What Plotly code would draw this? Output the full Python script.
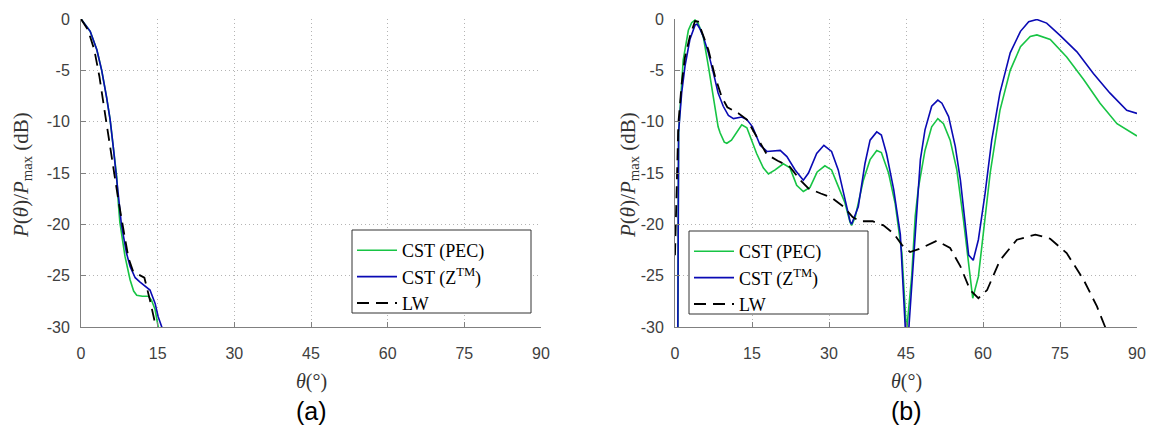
import plotly.graph_objects as go

# ---------------- data: panel (a) ----------------
theta_a_pec = [0.0, 1.8, 3.1, 4.05, 5.0, 5.7, 6.3, 7.0, 7.25, 7.6, 8.6, 9.6, 10.3, 10.9, 12.0, 13.2, 13.8, 14.5, 15.1, 15.4]
pec_a = [0.0, -1.2, -3.0, -5.0, -7.6, -9.8, -12.4, -15.4, -17.6, -19.8, -23.1, -25.4, -26.5, -26.9, -27.0, -27.0, -27.4, -28.3, -30.0, -31.0]

theta_a_ztm = [0.0, 1.8, 3.1, 4.05, 5.0, 5.7, 6.3, 7.0, 7.4, 7.9, 8.9, 9.6, 10.6, 11.5, 12.5, 13.5, 14.5, 15.1, 15.8, 16.0]
ztm_a = [0.0, -1.2, -3.0, -5.0, -7.6, -9.8, -12.4, -15.4, -17.6, -20.0, -22.8, -24.1, -25.2, -25.6, -26.0, -26.4, -27.7, -29.0, -30.0, -31.0]

theta_a_lw = [0.0, 1.4, 2.6, 3.6, 4.6, 5.5, 6.4, 7.3, 8.3, 9.3, 10.2, 10.9, 11.6, 12.4, 13.5, 14.8, 15.1]
lw_a = [0.0, -1.1, -3.0, -5.6, -8.9, -11.8, -15.0, -17.6, -20.5, -23.3, -24.6, -24.8, -25.0, -25.2, -27.4, -30.0, -31.0]

# ---------------- data: panel (b) ----------------
theta_b_pec = [0.55, 0.7, 1.6, 2.6, 3.25, 3.9, 4.5, 5.5, 6.5, 7.5, 8.4, 8.8, 9.6, 10.1, 11.0, 13.0, 14.0, 15.9,
               17.2, 18.2, 19.5, 21.1, 22.4, 23.7, 25.0, 26.3, 27.7, 29.2, 30.5, 31.8, 33.1, 34.1, 34.4, 35.1,
               36.7, 38.0, 39.3, 40.2, 41.6, 42.9, 44.2, 45.1, 46.1, 46.8, 47.4, 48.7, 50.0, 51.2, 52.3, 53.6,
               54.9, 56.2, 57.2, 58.0, 59.1, 60.1, 61.4, 63.3, 65.3, 67.3, 69.2, 70.5, 73.1, 76.3, 79.6, 82.8,
               86.1, 90.0]
pec_b = [-31.0, -11.0, -4.0, -1.1, -0.36, -0.1, -0.4, -1.7, -4.6, -7.6, -10.5, -11.1, -12.0, -12.1, -11.8, -10.3,
         -10.6, -13.1, -14.5, -15.1, -14.7, -14.1, -14.5, -16.2, -16.8, -16.4, -14.9, -14.3, -14.7, -16.3, -17.9,
         -19.8, -20.1, -19.3, -15.7, -13.7, -12.8, -13.0, -15.0, -18.0, -22.8, -30.5, -25.1, -19.2, -16.5, -12.8,
         -10.5, -9.7, -10.2, -11.8, -14.7, -19.6, -24.1, -27.2, -25.1, -20.9, -15.0, -8.9, -5.0, -2.7, -1.7,
         -1.55, -2.0, -3.7, -5.9, -8.2, -10.2, -11.4]

theta_b_ztm = [0.55, 0.7, 1.3, 1.95, 2.9, 3.9, 4.3, 4.8, 5.5, 6.5, 7.5, 8.4, 9.4, 10.4, 11.4, 13.0, 14.0, 15.1,
               16.6, 17.9, 20.5, 21.8, 23.4, 25.0, 26.0, 27.6, 29.0, 30.5, 31.8, 33.1, 34.1, 34.4, 35.7, 37.0,
               38.0, 39.3, 40.2, 41.2, 42.6, 43.9, 44.9, 45.5, 46.4, 47.8, 48.7, 50.0, 51.2, 52.0, 53.3, 54.6,
               55.6, 56.5, 57.2, 58.1, 59.1, 60.4, 61.7, 63.3, 65.3, 67.3, 68.9, 70.5, 72.4, 75.0, 78.3, 81.5,
               84.7, 88.0, 90.0]
ztm_b = [-31.0, -11.0, -7.2, -4.6, -2.0, -0.6, -0.5, -0.9, -1.7, -3.3, -5.3, -7.2, -8.5, -9.4, -9.7, -9.55,
         -9.8, -10.5, -12.3, -12.9, -12.8, -13.4, -14.7, -15.7, -15.0, -13.1, -12.3, -12.9, -14.7, -17.6, -19.7,
         -20.0, -18.3, -14.1, -11.8, -11.0, -11.3, -13.1, -16.6, -21.0, -30.5, -30.5, -23.5, -13.7, -10.8, -8.5,
         -7.9, -8.2, -9.5, -12.4, -15.7, -20.2, -23.0, -23.5, -21.5, -17.0, -11.8, -7.2, -3.3, -1.2, -0.26,
         -0.05, -0.4, -1.6, -3.2, -5.3, -7.2, -8.9, -9.2]

theta_b_lw = [0.0, 0.65, 1.3, 1.95, 2.9, 3.9, 4.5, 5.5, 6.5, 7.8, 9.1, 10.2, 12.4, 14.0, 16.0, 17.9, 20.0, 22.4,
              24.4, 26.0, 28.4, 30.5, 32.9, 34.6, 36.1, 38.5, 40.6, 42.6, 44.2, 45.8, 47.6, 51.0, 53.6, 55.6,
              57.5, 59.1, 60.8, 63.3, 66.6, 70.2, 73.1, 76.3, 79.6, 82.2, 84.6]
lw_b = [-23.0, -10.2, -6.3, -3.7, -1.7, -0.2, -0.25, -1.6, -3.0, -5.6, -7.6, -8.6, -9.2, -9.8, -11.5, -13.2,
        -13.8, -14.4, -15.7, -16.5, -17.0, -17.4, -18.3, -19.3, -19.7, -19.7, -20.1, -20.9, -22.0, -22.7, -22.4,
        -21.6, -22.3, -24.1, -26.4, -27.2, -26.4, -23.5, -21.5, -21.0, -21.4, -22.8, -25.4, -28.0, -31.0]

x_ticks = [0, 15, 30, 45, 60, 75, 90]
y_ticks = [0, -5, -10, -15, -20, -25, -30]
y_tick_text = ["0", "-5", "-10", "-15", "-20", "-25", "-30"]

names = ["CST (PEC)", "CST (Z<sup>TM</sup>)", "LW"]
colors = ["#17c444", "#0a0ab4", "#000000"]

W, H = 1155, 433
fig = go.Figure()

def add_panel(xs, ys, xa, ya, leg):
    for i, (x, y) in enumerate(zip(xs, ys)):
        fig.add_trace(go.Scatter(
            x=x, y=y, mode="lines", name=names[i],
            line=dict(color=colors[i], width=1.6 if i < 2 else 1.8,
                      dash="solid" if i < 2 else "12px,7px"),
            xaxis=xa, yaxis=ya, legend=leg, showlegend=True))

add_panel([theta_a_pec, theta_a_ztm, theta_a_lw], [pec_a, ztm_a, lw_a], "x", "y", "legend")
add_panel([theta_b_pec, theta_b_ztm, theta_b_lw], [pec_b, ztm_b, lw_b], "x2", "y2", "legend2")

tickfont = dict(family="Liberation Sans, Arial", size=16, color="#404040")
ydom = [1 - 327 / H, 1 - 19 / H]
GRID = dict(showgrid=True, gridcolor="#b4b4b4", griddash="1px,3px", gridwidth=1)

def xaxis(dom, anchor):
    return dict(domain=dom, anchor=anchor, range=[0, 90], tickvals=x_ticks, automargin=False,
                showline=True, linecolor="#808080", linewidth=1,
                ticks="inside", ticklen=5, tickcolor="#808080",
                zeroline=False, tickfont=tickfont, ticklabelstandoff=12, fixedrange=True, **GRID)

def yaxis(anchor):
    return dict(domain=ydom, anchor=anchor, range=[-30, 0], tickvals=y_ticks, ticktext=y_tick_text,
                automargin=False,
                showline=True, linecolor="#808080", linewidth=1,
                ticks="inside", ticklen=5, tickcolor="#808080",
                zeroline=False, tickfont=tickfont, ticklabelstandoff=7, fixedrange=True, **GRID)

legfont = dict(family="Liberation Serif, Times New Roman, serif", size=18, color="black")

def legend(x, y):
    return dict(x=x, y=y, xanchor="left", yanchor="top", bgcolor="rgba(0,0,0,0)",
                borderwidth=0, font=legfont, tracegroupgap=0, itemwidth=40)

# legend frames (white boxes with a thin border, as in the reference)
boxes = [(352, 531, 230, 313), (689, 868, 231, 314)]
shapes = [dict(type="rect", xref="paper", yref="paper", x0=x0 / W, x1=x1 / W,
               y0=1 - y1 / H, y1=1 - y0 / H, layer="above",
               fillcolor="white", line=dict(color="#333333", width=1))
          for x0, x1, y0, y1 in boxes]

serif = "Liberation Serif, Times New Roman, serif"
ylab = "<i>P</i>(<i>θ</i>)/<i>P</i><sub>max</sub> (dB)"
xlab = "<i>θ</i>(°)"
annotations = []
for cx, ylx, tag in [(311, 22, "(a)"), (906, 629, "(b)")]:
    annotations.append(dict(text=ylab, x=ylx / W, y=1 - 175 / H, xref="paper", yref="paper",
                            textangle=-90, showarrow=False, xanchor="center", yanchor="middle",
                            font=dict(family=serif, size=21, color="#333333")))
    annotations.append(dict(text=xlab, x=cx / W, y=1 - 381 / H, xref="paper", yref="paper",
                            showarrow=False, xanchor="center", yanchor="middle",
                            font=dict(family=serif, size=20, color="#333333")))
    annotations.append(dict(text=tag, x=cx / W, y=1 - 411 / H, xref="paper", yref="paper",
                            showarrow=False, xanchor="center", yanchor="middle",
                            font=dict(family="Liberation Sans, Arial", size=25, color="black")))

fig.update_layout(
    width=W, height=H, margin=dict(l=0, r=0, t=0, b=0, autoexpand=False),
    paper_bgcolor="white", plot_bgcolor="white",
    xaxis=xaxis([81 / W, 541 / W], "y"), yaxis=yaxis("x"),
    xaxis2=xaxis([675 / W, 1137 / W], "y2"), yaxis2=yaxis("x2"),
    legend=legend(352 / W, 1 - 232 / H),
    legend2=legend(689 / W, 1 - 233 / H),
    shapes=shapes,
    annotations=annotations,
)

fig.write_html("out.html")
